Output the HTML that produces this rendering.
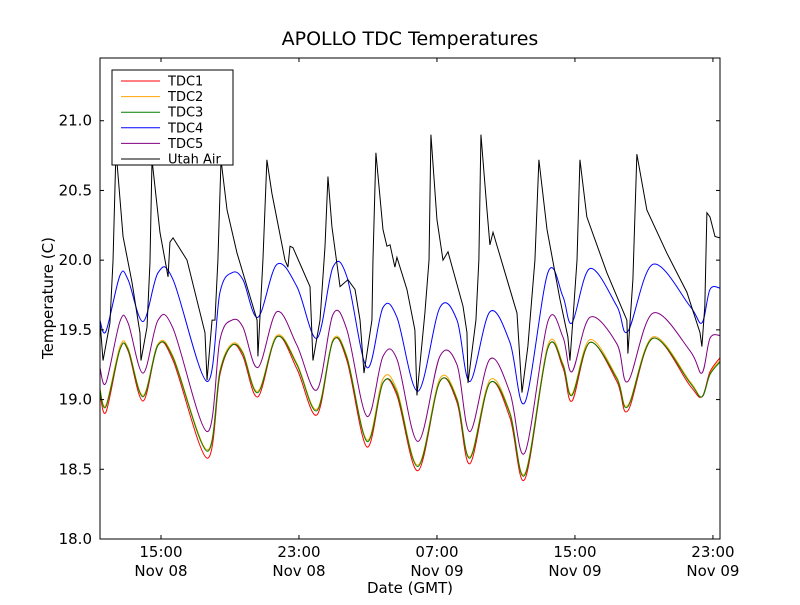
<!DOCTYPE html>
<html><head><meta charset="utf-8"><style>
html,body{margin:0;padding:0;background:#fff;}
svg text{font-family:"DejaVu Sans","Liberation Sans",sans-serif;}
</style></head><body>
<svg id="chart" width="800" height="600" xmlns="http://www.w3.org/2000/svg"></svg>
<script>
// ---- data (hours since Nov 08 00:00 GMT, temperature in C) ----
const tdcTimes = [11.46,11.81,12.62,13.09,13.96,14.83,15.70,17.67,18.42,19.12,19.75,20.62,21.72,22.88,24.04,24.97,25.78,26.94,27.87,28.68,29.90,31.17,32.16,32.91,34.07,35.23,36.10,37.43,38.30,38.83,39.87,41.43,42.07,43.52,45.67,46.36,46.83,47.41];
const tdc1 = [19.05,18.91,19.36,19.35,18.99,19.39,19.28,18.58,19.18,19.39,19.31,19.02,19.45,19.22,18.89,19.42,19.28,18.66,19.12,19.03,18.49,19.13,18.98,18.54,19.12,18.87,18.43,19.37,19.23,18.99,19.41,19.13,18.92,19.44,19.10,19.02,19.20,19.30];
const tdc2 = [19.08,18.96,19.38,19.37,19.03,19.40,19.31,18.64,19.21,19.40,19.34,19.06,19.46,19.26,18.93,19.43,19.31,18.71,19.15,19.07,18.53,19.15,19.01,18.59,19.14,18.91,18.47,19.39,19.26,19.04,19.43,19.16,18.96,19.45,19.13,19.02,19.19,19.28];
const tdc3 = [19.07,18.95,19.36,19.36,19.02,19.39,19.30,18.63,19.20,19.39,19.33,19.05,19.45,19.25,18.92,19.42,19.30,18.70,19.12,19.05,18.52,19.13,19.00,18.58,19.12,18.90,18.46,19.37,19.25,19.03,19.41,19.15,18.95,19.44,19.12,19.02,19.18,19.27];
const tdc4 = [19.57,19.49,19.89,19.86,19.56,19.91,19.86,19.13,19.77,19.91,19.86,19.59,19.97,19.81,19.44,19.95,19.88,19.23,19.66,19.59,19.06,19.66,19.57,19.13,19.63,19.41,18.98,19.91,19.74,19.55,19.94,19.67,19.49,19.97,19.67,19.55,19.79,19.80];
const tdc5 = [19.23,19.12,19.56,19.55,19.19,19.57,19.51,18.77,19.43,19.57,19.52,19.23,19.63,19.39,19.07,19.61,19.50,18.88,19.31,19.29,18.70,19.31,19.25,18.77,19.29,19.05,18.62,19.56,19.45,19.20,19.59,19.40,19.13,19.62,19.35,19.19,19.44,19.46];
const airTimes = [11.46,11.64,12.04,12.22,12.39,12.80,13.32,13.78,13.84,14.19,14.36,14.48,14.94,15.41,15.52,15.70,16.51,17.55,17.67,17.96,18.13,18.30,18.48,18.83,19.41,20.57,20.62,20.91,21.14,21.43,22.19,22.36,22.48,22.65,23.64,23.81,24.22,24.51,24.68,24.91,25.38,25.84,26.25,26.54,26.77,27.23,27.29,27.46,27.87,28.10,28.28,28.56,28.68,29.26,29.72,29.84,30.30,30.54,30.65,31.00,31.35,31.64,32.51,32.74,32.80,33.26,33.43,33.55,33.90,34.07,34.25,35.64,35.93,36.27,36.68,36.91,37.38,38.13,38.59,38.71,38.88,39.12,39.29,39.69,40.85,42.01,42.07,42.36,42.59,43.17,44.33,45.49,46.25,46.36,46.53,46.65,46.83,47.12,47.41];
const utahAir = [19.57,19.28,19.55,20.00,20.79,20.17,19.84,19.48,19.28,19.52,19.98,20.72,20.20,19.88,20.13,20.16,20.00,19.48,19.14,19.57,19.57,20.00,20.72,20.36,20.05,19.57,19.31,20.00,20.72,20.48,20.00,19.95,20.10,20.09,19.81,19.28,19.57,20.10,20.60,20.24,19.81,19.86,19.79,19.57,19.19,19.57,20.00,20.77,20.22,20.10,20.11,19.95,20.02,19.79,19.50,19.03,19.62,20.00,20.90,20.29,20.00,20.06,19.67,19.48,19.12,19.57,20.00,20.90,20.36,20.11,20.20,19.62,19.05,19.38,20.00,20.72,20.22,19.72,19.45,19.28,19.57,20.00,20.72,20.31,19.91,19.57,19.33,19.86,20.76,20.36,20.05,19.77,19.48,19.38,19.67,20.34,20.31,20.17,20.16];
const yTicks = [18.0,18.5,19.0,19.5,20.0,20.5,21.0];
const xTickHours = [15,23,31,39,47];
const xTickTimes = ["15:00","23:00","07:00","15:00","23:00"];
const xTickDates = ["Nov 08","Nov 08","Nov 09","Nov 09","Nov 09"];
const seriesNames = ["TDC1","TDC2","TDC3","TDC4","TDC5","Utah Air"];

const L=100,R=720,T=58,B=539;
const X0=11.464, X1=47.41, Y0=18.0, Y1=21.45;
const sx=h=>L+(h-X0)/(X1-X0)*(R-L);
const sy=v=>B-(v-Y0)/(Y1-Y0)*(B-T);
const NS="http://www.w3.org/2000/svg";
const svg=document.getElementById('chart');
function mk(tag,attrs,parent){const e=document.createElementNS(NS,tag);for(const k in attrs)e.setAttribute(k,attrs[k]);(parent||svg).appendChild(e);return e;}

const title=mk('text',{x:410,y:45,'text-anchor':'middle','font-size':19});
title.textContent="APOLLO TDC Temperatures";



const clip=mk('clipPath',{id:'pc'});mk('rect',{x:L,y:T,width:R-L,height:B-T},clip);
const plot=mk('g',{'clip-path':'url(#pc)'});



function smoothPath(xs,ys){
  const p=xs.map((h,i)=>[sx(h),sy(ys[i])]);
  let d=`M${p[0][0]},${p[0][1]}`;
  for(let i=0;i<p.length-1;i++){
    const p0=p[Math.max(0,i-1)],p1=p[i],p2=p[i+1],p3=p[Math.min(p.length-1,i+2)];
    const c1=[p1[0]+(p2[0]-p0[0])/6,p1[1]+(p2[1]-p0[1])/6];
    const c2=[p2[0]-(p3[0]-p1[0])/6,p2[1]-(p3[1]-p1[1])/6];
    d+=`C${c1[0]},${c1[1]} ${c2[0]},${c2[1]} ${p2[0]},${p2[1]}`;
  }
  return d;
}
const tdcSeries=[[tdc2,'#ffa500','tdc2-line'],[tdc1,'#ff0000','tdc1-line'],[tdc3,'#008000','tdc3-line'],[tdc4,'#0000ff','tdc4-line'],[tdc5,'#800080','tdc5-line']];
tdcSeries.forEach(s=>{
  const p=mk('path',{d:smoothPath(tdcTimes,s[0]),fill:'none',stroke:s[1],'stroke-width':1},plot);
  
  
});
const air=mk('polyline',{points:airTimes.map((h,i)=>sx(h)+','+sy(utahAir[i])).join(' '),fill:'none',stroke:'#000','stroke-width':1},plot);



const frame=mk('rect',{x:L,y:T,width:R-L,height:B-T,fill:'none',stroke:'#000','stroke-width':1});



yTicks.forEach(v=>{
  const y=sy(v);
  mk('line',{x1:L,x2:L+4,y1:y,y2:y,stroke:'#000'});
  mk('line',{x1:R,x2:R-4,y1:y,y2:y,stroke:'#000'});
  const t=mk('text',{x:L-8,y:y+5,'text-anchor':'end','font-size':15});
  t.textContent=v.toFixed(1);
  
  
});
xTickHours.forEach((h,i)=>{
  const x=sx(h);
  mk('line',{x1:x,x2:x,y1:B,y2:B-4,stroke:'#000'});
  mk('line',{x1:x,x2:x,y1:T,y2:T+4,stroke:'#000'});
  const t=mk('text',{x:x,y:B+18,'text-anchor':'middle','font-size':15});
  t.textContent=xTickTimes[i];
  
  
  const t2=mk('text',{x:x,y:B+37,'text-anchor':'middle','font-size':15});
  t2.textContent=xTickDates[i];
  
  
});
const xl=mk('text',{x:410,y:593,'text-anchor':'middle','font-size':15});
xl.textContent="Date (GMT)";


const yl=mk('text',{x:0,y:0,'text-anchor':'middle','font-size':15,transform:'translate(53,298) rotate(-90)'});
yl.textContent="Temperature (C)";



const lg=mk('g',{});


mk('rect',{x:112,y:70,width:121,height:95,fill:'#fff',stroke:'#000'},lg);
const legColors=['#ff0000','#ffa500','#008000','#0000ff','#800080','#000000'];
seriesNames.forEach((n,i)=>{
  const y=81+i*15.6;
  const ln=mk('line',{x1:121,x2:160,y1:y,y2:y,stroke:legColors[i]},lg);
  
  
  const t=mk('text',{x:168,y:y+4.5,'font-size':13},lg);
  t.textContent=n;
  
  
});
</script>
</body></html>
